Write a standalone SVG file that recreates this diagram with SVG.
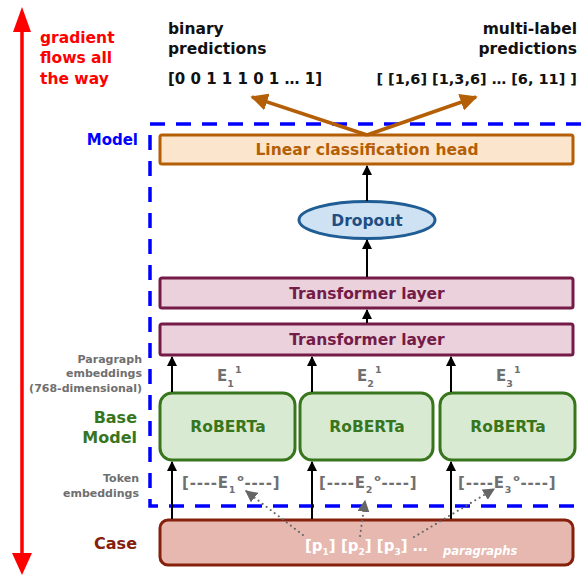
<svg xmlns="http://www.w3.org/2000/svg" width="581" height="576" viewBox="0 0 581 576">
<defs>
<marker id="ah" viewBox="0 0 10 10" refX="9" refY="5" markerWidth="5" markerHeight="5" orient="auto" markerUnits="strokeWidth"><path d="M0,0 L10,5 L0,10 z" fill="#000"/></marker>
<marker id="ahO" viewBox="0 0 10 10" refX="9" refY="5" markerWidth="5" markerHeight="5" orient="auto" markerUnits="strokeWidth"><path d="M0,0 L10,5 L0,10 z" fill="#b45f06"/></marker>
<marker id="ahG" viewBox="0 0 10 10" refX="9" refY="5" markerWidth="6" markerHeight="6" orient="auto" markerUnits="strokeWidth"><path d="M0,0 L10,5 L0,10 z" fill="#666"/></marker>
<style>
text{font-family:"DejaVu Sans","Liberation Sans",sans-serif;font-weight:bold}
.gray{fill:#6f6f6f;font-size:11px}
.conn{stroke:#000;stroke-width:2;fill:none;marker-end:url(#ah)}
.dot{stroke:#666;stroke-width:2;fill:none;stroke-dasharray:0.1 5;stroke-linecap:round;marker-end:url(#ahG)}
.box{stroke-width:3}
.t{font-size:15.5px}
.tok{fill:#707070;font-size:15px;letter-spacing:0.8px}
</style>
</defs>
<rect width="581" height="576" fill="#fff"/>

<!-- gradient arrow -->
<g id="gradient">
<line x1="22" y1="28" x2="22" y2="554" stroke="#ff0000" stroke-width="3.5"/>
<path d="M22,7 L31,32 L13,32 z" fill="#ff0000"/>
<path d="M22,575 L32,553 L12,553 z" fill="#ff0000"/>
<text fill="#ff0000" font-size="15.5"><tspan x="40" y="43">gradient</tspan><tspan x="40" y="63">flows all</tspan><tspan x="40" y="84">the way</tspan></text>
</g>

<!-- outputs -->
<g id="binary">
<text fill="#111" font-size="15.5"><tspan x="168" y="34">binary</tspan><tspan x="168" y="54">predictions</tspan></text>
<text x="168" y="84" fill="#111" font-size="15">[0 0 1 1 1 0 1 … 1]</text>
</g>
<g id="multilabel">
<text fill="#111" font-size="15.5" text-anchor="end"><tspan x="577" y="34">multi-label</tspan><tspan x="577" y="54">predictions</tspan></text>
<text x="577" y="84" fill="#111" font-size="14.5" text-anchor="end">[ [1,6] [1,3,6] … [6, 11] ]</text>
</g>

<!-- model dashed boundary -->
<g id="model-boundary">
<path d="M581,124 L150,124 L150,506 L581,506" fill="none" stroke="#0000ff" stroke-width="3.5" stroke-dasharray="15 11"/>
<text x="138" y="145" fill="#0000ff" font-size="15" text-anchor="end">Model</text>
</g>

<!-- left labels -->
<g id="labels">
<text class="gray" text-anchor="end"><tspan x="142" y="363">Paragraph</tspan><tspan x="142" y="377">embeddings</tspan><tspan x="142" y="392">(768-dimensional)</tspan></text>
<text fill="#38761d" font-size="16" text-anchor="end"><tspan x="137" y="423">Base</tspan><tspan x="137" y="443">Model</tspan></text>
<text class="gray" text-anchor="end"><tspan x="139" y="482">Token</tspan><tspan x="139" y="497">embeddings</tspan></text>
<text x="137" y="549" fill="#85200c" font-size="16" text-anchor="end">Case</text>
</g>

<!-- nodes -->
<g id="head">
<rect x="160" y="135" width="413" height="29" rx="2" fill="#fce5cd" stroke="#b45f06" class="box"/>
<text x="367" y="155" fill="#b45f06" class="t" text-anchor="middle">Linear classification head</text>
</g>
<g id="dropout">
<ellipse cx="367" cy="220" rx="68" ry="18.5" fill="#cfe2f3" stroke="#1f5d94" class="box"/>
<text x="367" y="226" fill="#1f4e84" class="t" text-anchor="middle">Dropout</text>
</g>
<g id="transformer2">
<rect x="160" y="278" width="413" height="30" rx="2" fill="#ead1dc" stroke="#741b47" class="box"/>
<text x="367" y="299" fill="#741b47" class="t" text-anchor="middle">Transformer layer</text>
</g>
<g id="transformer1">
<rect x="160" y="324" width="413" height="31" rx="2" fill="#ead1dc" stroke="#741b47" class="box"/>
<text x="367" y="345" fill="#741b47" class="t" text-anchor="middle">Transformer layer</text>
</g>
<g id="roberta1">
<rect x="160" y="393" width="135" height="67" rx="12" fill="#d9ead3" stroke="#38761d" class="box"/>
<text x="228" y="432" fill="#38761d" class="t" text-anchor="middle">RoBERTa</text>
</g>
<g id="roberta2">
<rect x="300" y="393" width="133" height="67" rx="12" fill="#d9ead3" stroke="#38761d" class="box"/>
<text x="367" y="432" fill="#38761d" class="t" text-anchor="middle">RoBERTa</text>
</g>
<g id="roberta3">
<rect x="440" y="393" width="135" height="67" rx="12" fill="#d9ead3" stroke="#38761d" class="box"/>
<text x="508" y="432" fill="#38761d" class="t" text-anchor="middle">RoBERTa</text>
</g>
<g id="case">
<rect x="160" y="520" width="413" height="45" rx="8" fill="#e6b8af" stroke="#85200c" class="box"/>
<text x="305" y="551" fill="#fff" font-size="15">[p<tspan font-size="9" dy="4">1</tspan><tspan dy="-4">] [p</tspan><tspan font-size="9" dy="4">2</tspan><tspan dy="-4">] [p</tspan><tspan font-size="9" dy="4">3</tspan><tspan dy="-4">] …</tspan></text>
<text x="443" y="555" fill="#fff" font-size="11.5" font-style="italic">paragraphs</text>
</g>

<!-- embedding labels -->
<g id="emb-labels">
<text x="217" y="381" fill="#6f6f6f" font-size="15">E<tspan font-size="9.5" dy="6">1</tspan><tspan font-size="9.5" dx="1" dy="-14">1</tspan></text>
<text x="357" y="381" fill="#6f6f6f" font-size="15">E<tspan font-size="9.5" dy="6">2</tspan><tspan font-size="9.5" dx="1" dy="-14">1</tspan></text>
<text x="496" y="381" fill="#6f6f6f" font-size="15">E<tspan font-size="9.5" dy="6">3</tspan><tspan font-size="9.5" dx="1" dy="-14">1</tspan></text>
<text x="182" y="488" class="tok">[----E<tspan font-size="9.5" dy="5">1</tspan><tspan font-size="9.5" dx="1" dy="-12">o</tspan><tspan dy="7">----]</tspan></text>
<text x="319" y="488" class="tok">[----E<tspan font-size="9.5" dy="5">2</tspan><tspan font-size="9.5" dx="1" dy="-12">o</tspan><tspan dy="7">----]</tspan></text>
<text x="458" y="488" class="tok">[----E<tspan font-size="9.5" dy="5">3</tspan><tspan font-size="9.5" dx="1" dy="-12">o</tspan><tspan dy="7">----]</tspan></text>
</g>

<!-- connectors -->
<g id="connectors">
<line x1="367" y1="135" x2="252" y2="97" stroke="#b45f06" stroke-width="3.5" marker-end="url(#ahO)"/>
<line x1="367" y1="135" x2="476" y2="97" stroke="#b45f06" stroke-width="3.5" marker-end="url(#ahO)"/>
<line x1="367" y1="201" x2="367" y2="166" class="conn"/>
<line x1="367" y1="277" x2="367" y2="240" class="conn"/>
<line x1="367" y1="323" x2="367" y2="310" class="conn"/>
<line x1="172" y1="392" x2="172" y2="357" class="conn"/>
<line x1="312" y1="392" x2="312" y2="357" class="conn"/>
<line x1="451" y1="392" x2="451" y2="357" class="conn"/>
<line x1="172" y1="519" x2="172" y2="462" class="conn"/>
<line x1="312" y1="519" x2="312" y2="462" class="conn"/>
<line x1="451" y1="519" x2="451" y2="462" class="conn"/>
<line x1="303" y1="535" x2="246" y2="491" class="dot"/>
<line x1="360" y1="536" x2="365" y2="501" class="dot"/>
<line x1="414" y1="537" x2="494" y2="489" class="dot"/>
</g>
</svg>
